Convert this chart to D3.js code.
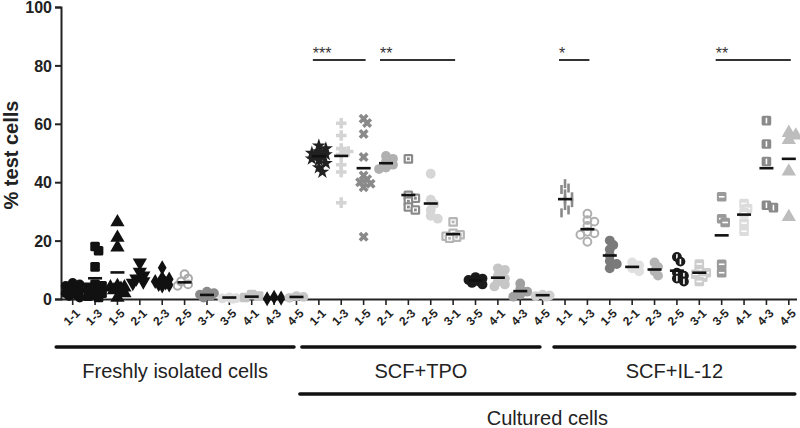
<!DOCTYPE html>
<html>
<head>
<meta charset="utf-8">
<script src="https://cdn.jsdelivr.net/npm/d3@7/dist/d3.min.js"></script>
<style>
  html, body { margin: 0; padding: 0; background: #fff; }
  svg { display: block; font-family: "Liberation Sans", Arial, sans-serif; }
</style>
</head>
<body>
<svg id="chart" width="800" height="428"></svg>
<script>
// ---------------- DATA ----------------
const categories = ["1-1","1-3","1-5","2-1","2-3","2-5","3-1","3-5","4-1","4-3","4-5"];
const groups = ["Freshly isolated cells", "SCF+TPO", "SCF+IL-12"];
const superGroup = "Cultured cells";
const yTicks = [0, 20, 40, 60, 80, 100];
const yTitle = "% test cells";

const freshValues = [
  [5.5, 5, 4.5, 4, 3.5, 3, 2.5, 2, 1.5, 1, 0.5],
  [18, 16.5, 11, 5, 4.5, 4, 3.5, 3, 2, 1.5, 1, 0.5],
  [26.3, 21, 17.7, 4.5, 4, 4, 3.5, 3, 2, 0.5],
  [12.5, 9.3, 8, 7, 6, 5.5],
  [10.7, 7.2, 6.8, 6, 5.5, 5, 4.8, 4.5],
  [8.5, 7, 6, 5, 4.5],
  [2.5, 2, 1.5, 1, 0.5],
  [0.5, 0.3, 0.2, 0.1],
  [1.5, 1, 0.5],
  [0.6, 0.3, 0.1],
  [1, 0.7, 0.4]
];
const freshMeans = [3.8, 7.1, 9.1, 7.8, 5.9, 5.7, 1.4, 0.5, 0.8, 0.3, 0.7];

const tpoValues = [
  [52.5, 51.5, 50.5, 50, 49.5, 49, 48.5, 48, 47.5, 46.5, 45, 43.5],
  [60.2, 56, 51.5, 50.5, 49.5, 46, 43.5, 33],
  [61.7, 60.3, 56.5, 48.6, 42.3, 41, 40, 39.5, 38.3, 21.3],
  [49, 48, 47, 46, 45, 44.5],
  [48, 35.5, 34.5, 33.5, 31.5, 30.5],
  [42.9, 34, 32.5, 30.5, 28.5, 27.5],
  [26.4, 22.5, 22, 21.5, 21.2, 20.8],
  [7.5, 7, 6.5, 6, 5.5, 5],
  [10.5, 10, 8, 7, 6, 5, 4.3],
  [5.3, 3.5, 2.5, 1.5, 0.8],
  [1.5, 1.2, 1, 0.8]
];
const tpoMeans = [48.9, 49, 44.8, 46.5, 35.6, 32.7, 22.2, 6.3, 7.3, 2.7, 1.3];

const il12Values = [
  [39.5, 38, 37.5, 36, 35, 34, 33, 32, 30.5, 29.5],
  [29.2, 27, 26.5, 25, 23, 22.5, 22, 19.6],
  [20, 18.5, 17, 15, 13, 12, 10.5],
  [12.5, 11.5, 10.5, 9.5],
  [12.5, 11, 9.5, 8],
  [14.4, 12.8, 9, 8, 7, 6],
  [12, 10, 9, 8.5, 7.5, 6],
  [35, 27.5, 26.2, 11.9, 9],
  [32.7, 31, 29.5, 26, 23.2],
  [61.1, 53.1, 47.1, 32.1, 31.3],
  [56.9, 56, 54.5, 43.7, 28.1]
];
const il12Means = [34.2, 23.9, 14.9, 11, 10.1, 9.7, 9, 21.8, 28.9, 44.8, 48];

// significance bars: [group index, from category, to category, label]
const sigBars = [
  [1, "1-1", "1-5", "***"],
  [1, "2-1", "3-1", "**"],
  [2, "1-1", "1-3", "*"],
  [2, "3-5", "4-5", "**"]
];

// ---------------- STYLES ----------------
const markerShapes = [
  ["circle","square","triangle","triangleDown","diamond","ring","circle","circle","square","diamond","circle"],
  ["star","plus","x","circle","square","circle","square","circle","circle","circle","circle"],
  ["vbar","ring","circle","circle","circle","circle","square","square","square","square","triangle"]
];
const markerColors = [
  ["#111","#111","#111","#111","#111","#aaa","#8a8a8a","#ddd","#c4c4c4","#111","#c8c8c8"],
  ["#222","#d4d4d4","#8a8a8a","#b0b0b0","#8a8a8a","#d6d6d6","#b5b5b5","#1a1a1a","#c6c6c6","#a0a0a0","#cfcfcf"],
  ["#8a8a8a","#b0b0b0","#7a7a7a","#e0e0e0","#b4b4b4","#1a1a1a","#cdcdcd","#9a9a9a","#dcdcdc","#8a8a8a","#bdbdbd"]
];
const markerInner = [
  [null,null,null,null,null,null,null,null,null,null,null],
  [null,null,null,null,"sq",null,"sq",null,null,null,null],
  [null,null,null,null,null,"vbar","hbar","hbar","hbar","vbar",null]
];

// ---------------- LAYOUT ----------------
const svg = d3.select("#chart");
const plotTop = 7, plotBottom = 299, axisX = 61;

const keys = [];
groups.forEach((g, gi) => categories.forEach(c => keys.push(gi + "|" + c)));

const x = d3.scaleBand().domain(keys).range([61.5, 800]).padding(0);
const cx = k => x(k) + x.bandwidth() / 2;
const y = d3.scaleLinear().domain([0, 100]).range([plotBottom, plotTop]);

// Y axis
const yAxis = svg.append("g")
  .attr("transform", `translate(${axisX},0)`)
  .call(d3.axisLeft(y).tickValues(yTicks).tickSize(6).tickPadding(3));
yAxis.select(".domain").attr("stroke", "#222").attr("stroke-width", 2);
yAxis.selectAll(".tick line").attr("stroke", "#222").attr("stroke-width", 2);
yAxis.selectAll(".tick text")
  .attr("font-family", "'Liberation Sans', Arial, sans-serif")
  .attr("font-size", 16).attr("font-weight", "bold").attr("fill", "#222")
  .attr("dy", "0.36em");

// X axis
const xAxis = svg.append("g")
  .attr("transform", `translate(0,${plotBottom})`)
  .call(d3.axisBottom(x).tickSize(6).tickSizeOuter(0).tickFormat(k => k.split("|")[1]));
xAxis.select(".domain").attr("stroke", "#222").attr("stroke-width", 2)
  .attr("d", `M${axisX},0.5H797`);
xAxis.selectAll(".tick line").attr("stroke", "#222").attr("stroke-width", 1.6);
xAxis.selectAll(".tick text")
  .attr("font-family", "'Liberation Sans', Arial, sans-serif")
  .attr("font-size", 12).attr("font-weight", "bold").attr("fill", "#222")
  .attr("text-anchor", "end")
  .attr("dy", "0.35em")
  .attr("transform", "translate(5,12) rotate(-45)")
  .attr("y", 0).attr("x", 0);

// Y title
svg.append("text")
  .attr("transform", `translate(18,${(plotTop + plotBottom) / 2 + 2}) rotate(-90)`)
  .attr("text-anchor", "middle")
  .attr("font-size", 20).attr("font-weight", "bold").attr("fill", "#222")
  .text(yTitle);

// ---------------- MARKERS ----------------
const sym = {
  circle: d3.symbol().type(d3.symbolCircle).size(76),
  triangle: d3.symbol().type(d3.symbolTriangle).size(88),
  diamond: d3.symbol().type(d3.symbolDiamond).size(66),
  star: d3.symbol().type(d3.symbolStar).size(62),
  cross: d3.symbol().type(d3.symbolCross).size(62)
};

function drawMarker(g, shape, color, inner) {
  switch (shape) {
    case "circle": g.append("path").attr("d", sym.circle()).attr("fill", color); break;
    case "ring": g.append("circle").attr("r", 3.9).attr("fill", "none").attr("stroke", color).attr("stroke-width", 2); break;
    case "square": g.append("rect").attr("x", -4.8).attr("y", -4.8).attr("width", 9.6).attr("height", 9.6).attr("rx", 1.5).attr("fill", color); break;
    case "triangle": g.append("path").attr("d", sym.triangle()).attr("fill", color); break;
    case "triangleDown": g.append("path").attr("d", sym.triangle()).attr("transform", "rotate(180)").attr("fill", color); break;
    case "diamond": g.append("path").attr("d", sym.diamond()).attr("fill", color); break;
    case "star": g.append("path").attr("d", sym.star()).attr("fill", color); break;
    case "plus": g.append("path").attr("d", sym.cross()).attr("fill", color); break;
    case "x": g.append("path").attr("d", sym.cross()).attr("transform", "rotate(45)").attr("fill", color); break;
    case "vbar": g.append("rect").attr("x", -1.3).attr("y", -4.5).attr("width", 2.6).attr("height", 9).attr("fill", color); break;
  }
  if (inner === "sq") g.append("rect").attr("x", -2).attr("y", -2).attr("width", 4).attr("height", 4).attr("fill", "none").attr("stroke", "#fff").attr("stroke-width", 1.2);
  if (inner === "vbar") g.append("rect").attr("x", -0.8).attr("y", -2.8).attr("width", 1.6).attr("height", 5.6).attr("fill", "#fff");
  if (inner === "hbar") g.append("rect").attr("x", -2.8).attr("y", -0.8).attr("width", 5.6).attr("height", 1.6).attr("fill", "#fff");
}

// compact deterministic swarm: small horizontal spread, heavy overlap allowed
function swarm(vals) {
  const order = vals.map((v, i) => ({ v, i })).sort((a, b) => b.v - a.v);
  const placed = [];
  const minD = 5, step = 3.5, maxK = 4;
  const out = new Array(vals.length);
  order.forEach(p => {
    const py = y(p.v);
    let best = 0, bestD = -1;
    for (let k = 0; k <= maxK; k++) {
      const off = k === 0 ? 0 : (k % 2 ? 1 : -1) * Math.ceil(k / 2) * step;
      const d = placed.length ? d3.min(placed, q => Math.hypot(q.x - off, q.y - py)) : Infinity;
      if (d >= minD) { best = off; bestD = d; break; }
      if (d > bestD + 0.01) { bestD = d; best = off; }
    }
    placed.push({ x: best, y: py });
    out[p.i] = { dx: best, y: py };
  });
  return out;
}

const allValues = [freshValues, tpoValues, il12Values];
const allMeans = [freshMeans, tpoMeans, il12Means];

const pts = svg.append("g");
groups.forEach((g, gi) => {
  categories.forEach((c, ci) => {
    const k = gi + "|" + c;
    const vals = allValues[gi][ci];
    const pos = swarm(vals);
    pos.forEach(p => {
      const m = pts.append("g").attr("transform", `translate(${cx(k) + p.dx},${p.y})`);
      drawMarker(m, markerShapes[gi][ci], markerColors[gi][ci], markerInner[gi][ci]);
    });
  });
});

// mean lines
const meanG = svg.append("g");
groups.forEach((g, gi) => {
  categories.forEach((c, ci) => {
    const k = gi + "|" + c;
    meanG.append("line")
      .attr("x1", cx(k) - 7).attr("x2", cx(k) + 7)
      .attr("y1", y(allMeans[gi][ci])).attr("y2", y(allMeans[gi][ci]))
      .attr("stroke", "#111").attr("stroke-width", 2.6);
  });
});

// significance bars
const sigY = 60;
sigBars.forEach(([gi, a, b, lab]) => {
  const x1 = cx(gi + "|" + a) - 6, x2 = cx(gi + "|" + b) + 2;
  svg.append("line").attr("x1", x1).attr("x2", x2).attr("y1", sigY).attr("y2", sigY)
    .attr("stroke", "#333").attr("stroke-width", 2);
  svg.append("text").attr("x", x1).attr("y", sigY - 1)
    .attr("font-size", 16).attr("fill", "#333").text(lab);
});

// group underlines & labels
const groupLineY = 347;
const groupPad = [[-16.5, -2.5], [-17, -2.7], [-11, 6]];
groups.forEach((g, gi) => {
  const first = cx(gi + "|" + categories[0]);
  const last = cx(gi + "|" + categories[categories.length - 1]);
  const x1 = first + groupPad[gi][0], x2 = last + groupPad[gi][1];
  svg.append("line").attr("x1", x1).attr("x2", x2).attr("y1", groupLineY).attr("y2", groupLineY)
    .attr("stroke", "#111").attr("stroke-width", 3.5).attr("stroke-linecap", "round");
  svg.append("text").attr("x", (x1 + x2) / 2).attr("y", 378)
    .attr("text-anchor", "middle").attr("font-size", 20).attr("fill", "#222").text(g);
});

// super group (cultured)
{
  const x1 = cx("1|" + categories[0]) - 19;
  const x2 = cx("2|" + categories[categories.length - 1]) + 6;
  svg.append("line").attr("x1", x1).attr("x2", x2).attr("y1", 394).attr("y2", 394)
    .attr("stroke", "#111").attr("stroke-width", 3.5).attr("stroke-linecap", "round");
  svg.append("text").attr("x", (x1 + x2) / 2).attr("y", 425)
    .attr("text-anchor", "middle").attr("font-size", 20).attr("fill", "#222").text(superGroup);
}
</script>
</body>
</html>
